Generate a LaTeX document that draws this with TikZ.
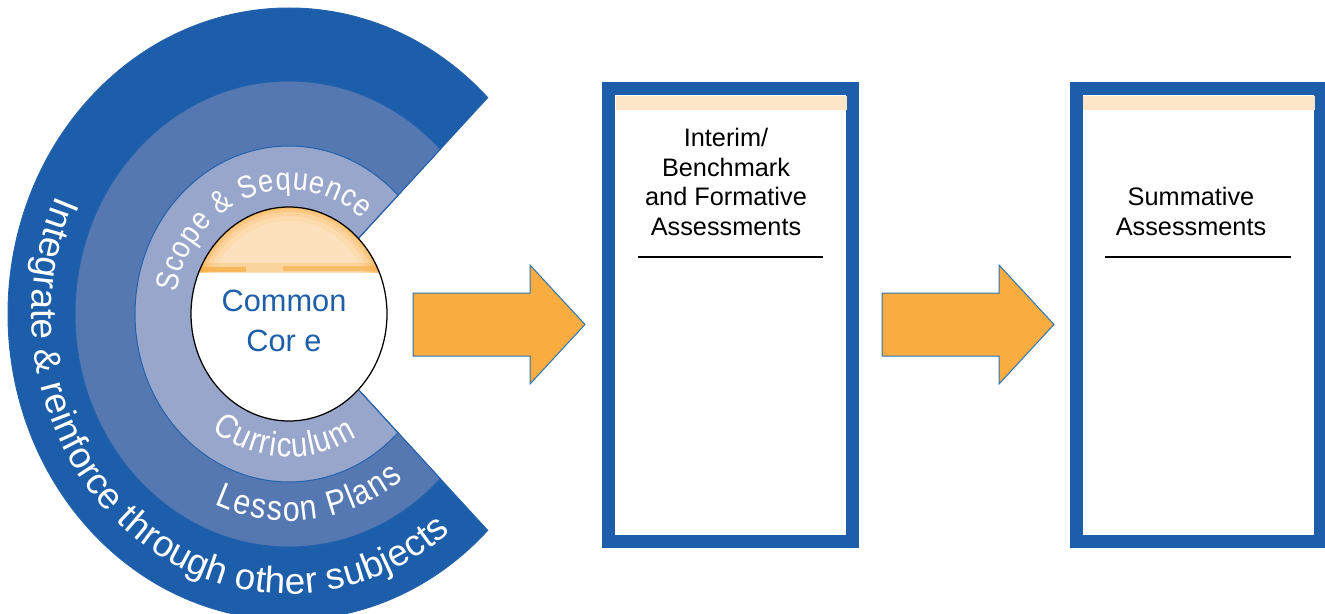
\documentclass[tikz,border=0pt]{standalone}
\usepackage{fontspec}
\setmainfont{Liberation Sans}
\newfontfamily\ringnarrow[FakeStretch=0.86]{Liberation Sans}
\usepackage{tikz}
\usetikzlibrary{calc,positioning,decorations.text}

\definecolor{ringdark}{RGB}{28,94,170}
\definecolor{ringmid}{RGB}{86,120,178}
\definecolor{ringlight}{RGB}{152,166,203}
\definecolor{edgeblue}{RGB}{36,98,172}
\definecolor{arroworange}{RGB}{249,172,64}
\definecolor{arrowedge}{RGB}{46,117,182}
\definecolor{peach}{RGB}{253,230,200}
\definecolor{coreblue}{RGB}{30,95,170}

\newcommand{\outerringfont}{\fontsize{21pt}{25pt}\selectfont}
\newcommand{\lessonfont}{\ringnarrow\fontsize{20pt}{24pt}\selectfont}
\newcommand{\curriculumfont}{\ringnarrow\fontsize{19.5pt}{23pt}\selectfont}
\newcommand{\scopefont}{\ringnarrow\fontsize{18pt}{22pt}\selectfont}

\begin{document}
\begin{tikzpicture}[x=0.02cm,y=0.02cm,
    sector/.style={fill=#1,draw=edgeblue,line width=0.02cm},
    ringtext/.style={decorate,decoration={text along path,text={#1},
        text align={fit to path},text color=white}},
    assessbox/.style={draw=ringdark,fill=white,line width=0.26cm,
        minimum width=4.88cm,minimum height=9.06cm,inner sep=0pt},
    boxtext/.style={align=center,font=\fontsize{14.4pt}{17pt}\selectfont},
    rulepen/.style={line width=0.04cm},
    blockarrow/.style={fill=arroworange,draw=arrowedge,line width=0.02cm}]
  \useasboundingbox (0,0) rectangle (1325,613);
  \clip (0,0) rectangle (1325,613);

  \coordinate (core) at (289,299);

  \foreach \rx/\ry/\col in {281/306/ringdark,214/233/ringmid,154/168/ringlight}
    \filldraw[sector=\col] (core) -- ([shift={(core)}]45:{\rx} and {\ry})
      arc[start angle=45,end angle=315,x radius=\rx,y radius=\ry] -- cycle;

  % common core disc with its peach cap
  \fill[white] (core) ellipse[x radius=98,y radius=107];
  \begin{scope}
    \clip (core) ellipse[x radius=98,y radius=107];
    \clip (180,341) rectangle (400,420);
    \foreach \rx/\ry/\mix in {98/107/70,96/105/50,93/102/32,89/98/18,84/93/8}
      \fill[arroworange!\mix!peach] (core) ellipse[x radius=\rx,y radius=\ry];
    \fill[arroworange,opacity=0.25] (180,341) rectangle (400,350);
    \fill[arroworange,opacity=0.7] (190,341) rectangle (246,346);
    \fill[arroworange,opacity=0.55] (283,342) rectangle (388,347);
  \end{scope}
  \draw[line width=0.025cm] (core) ellipse[x radius=98,y radius=107];
  \node[text=coreblue,align=center,font=\fontsize{17.5pt}{23.2pt}\selectfont]
    (commoncore) at (284,292) {Common\\Cor e};

  \path[ringtext={|\outerringfont|Integrate {\&} reinforce through other subjects}]
    ([shift={(core)}]155:257 and 280) arc[start angle=155,end angle=309,x radius=257,y radius=280];
  \path[ringtext={|\lessonfont|Lesson Plans}]
    ([shift={(core)}]247:190 and 207) arc[start angle=247,end angle=307,x radius=190,y radius=207];
  \path[ringtext={|\curriculumfont|Curriculum}]
    ([shift={(core)}]234:131 and 143) arc[start angle=234,end angle=301,x radius=131,y radius=143];
  \path[ringtext={|\scopefont|Scope {\&} Sequence}]
    ([shift={(core)}]170:114 and 124) arc[start angle=170,end angle=50,x radius=114,y radius=124];

  \foreach \ax in {413,882}
    \filldraw[blockarrow] (\ax,257) -- ++(117,0) -- ++(0,-28) -- ++(55,59.5)
      -- ++(-55,59.5) -- ++(0,-28) -- ++(-117,0) -- cycle;

  \node[assessbox] (interim) at (730.5,298) {};
  \node[assessbox] (summative) at (1198.5,298) {};

  \fill[peach] (616,503) rectangle (847,517);
  \fill[peach] (1083,503) rectangle (1315,517);

  \node[boxtext] (interimtext) at (726,431) {Interim/\\Benchmark\\and Formative\\Assessments};
  \node[boxtext] (summativetext) at (1191,401.5) {Summative\\Assessments};

  \draw[rulepen] (638,356) -- (823,356);
  \draw[rulepen] (1105,356) -- (1291,356);
\end{tikzpicture}
\end{document}
